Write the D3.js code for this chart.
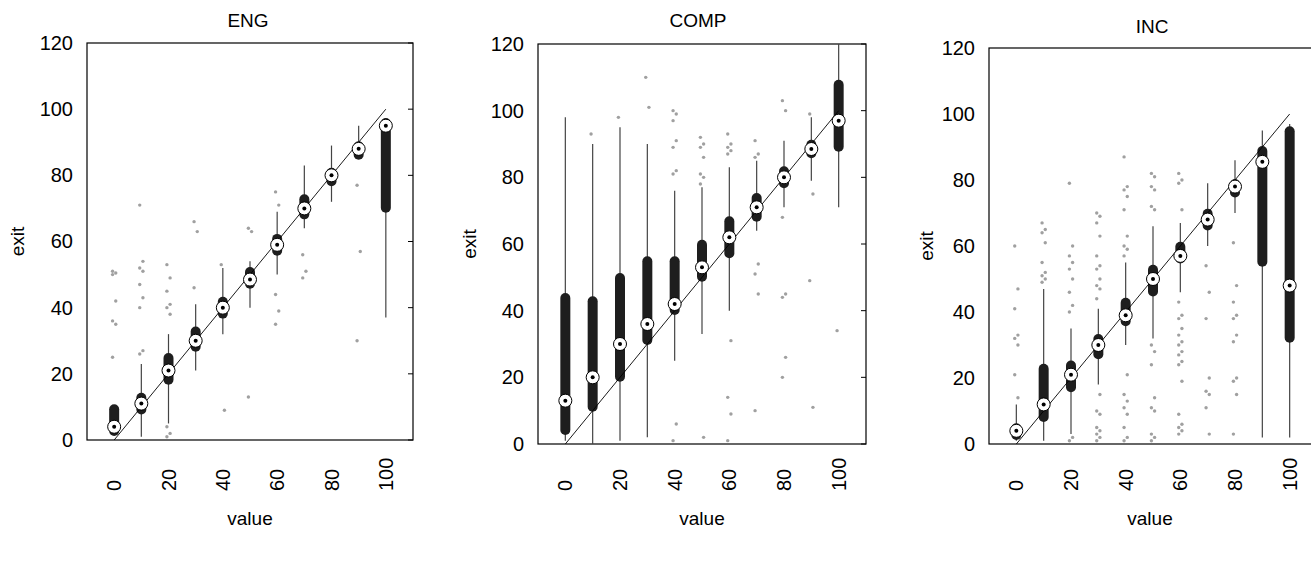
<!DOCTYPE html>
<html><head><meta charset="utf-8">
<script src="https://cdn.jsdelivr.net/npm/d3@7"></script>
<style>body{margin:0;background:#fff}svg{display:block;font-family:"Liberation Sans",Arial,sans-serif}</style>
</head><body><svg id="c" width="1311" height="580"></svg>
<script>
const categories = [0, 10, 20, 30, 40, 50, 60, 70, 80, 90, 100];
const tickLabels = [0, 20, 40, 60, 80, 100];
const yTicks = [0, 20, 40, 60, 80, 100, 120];
const panelTitles = ['ENG', 'COMP', 'INC'];

// [whiskerLow, q1, median, q3, whiskerHigh] per category
const engStats = [[1.5,1.5,4,10.5,10.5],[1,8,11,14,23],[5,17,21,26,32],[21,27,30,34,41],[32,37,40,43,52],[40,46,48.5,52,54],
  [50,56,59,62,69],[64,67,70,74,83],[72,77,80,82,89],[85,85,88,90,95],[37,69,95,97,97]];
const compStats = [[1,3,13,45,98],[0,10,20,44,90],[1,19,30,51,95],[2,30,36,56,90],[25,39,42,56,76],[33,49,53,61,77],
  [40,56,62,68,83],[64,67,71,75,85],[71,77,80,83,91],[79,86,88.5,91,98],[71,88,97,109,120]];
const incStats = [[1,1.5,4,6,12],[1,7,12,24,47],[3,16,21,25,35],[18,26,30,33,41],[30,36,39,44,55],[32,45,50,54,66],
  [46,55,57,61,67],[60,65,68,71,79],[70,75,78,80,86],[2,54,85.5,90,95],[2,31,48,96,97]];

const engOut = [[51,50.5,50,42,36,35,25],[71,54,52,51,47,43,40,27,26],[53,49,45,41,40,38,4,2,1],[66,63,46],[53,9],[64,63,13],
  [75,71,44,39,35],[56,51,49],[],[77,57,30],[]];
const compOut = [[],[93],[98],[110,101],[100,99,97,91,89,82,81,6,1],[92,90,89,86,81,80,78,2],[93,90,89,88,87,31,14,9,1],
  [91,87,86,54,51,45,10],[103,100,68,45,44,26,20],[99,75,49,11],[34]];
const incOut = [[60,47,41,33,32,30,21,14],[67,65,64,61,55,52,51,50,49],[79,60,57,55,53,50,46,42,40,2,1],
  [70,69,67,63,57,54,53,50,48,47,44,15,10,9,5,4,3,2,1],[87,78,77,75,71,63,60,59,57,21,15,13,11,9,5,2,1],
  [82,81,78,77,72,71,30,28,24,14,11,10,3,2,1],[82,80,79,71,43,39,38,35,33,31,30,28,27,25,24,19,9,6,5,4,3],
  [54,46,38,20,16,15,11,3],[61,48,43,39,38,33,31,20,19,15,3],[],[]];

const panels = [
  {stats: engStats, out: engOut, x0: 87, x1: 413, y0: 43, y1: 440, tx: 248, ty: 27, ylx: 18},
  {stats: compStats, out: compOut, x0: 538, x1: 866, y0: 44, y1: 444, tx: 698, ty: 27, ylx: 470},
  {stats: incStats, out: incOut, x0: 989, x1: 1317, y0: 48, y1: 444, tx: 1152, ty: 33, ylx: 927}
];

const svg = d3.select('#c');
panels.forEach((p, pi) => {
  const x = d3.scaleLinear().domain([-10, 110]).range([p.x0, p.x1]);
  const y = d3.scaleLinear().domain([0, 120]).range([p.y1, p.y0]);
  const g = svg.append('g');

  g.append('rect').attr('x', p.x0).attr('y', p.y0).attr('width', p.x1 - p.x0).attr('height', p.y1 - p.y0)
    .attr('fill', 'none').attr('stroke', '#000').attr('stroke-width', 1.2);

  // left labels, inward ticks on right
  g.append('g').attr('transform', `translate(${p.x0},0)`)
    .call(d3.axisLeft(y).tickValues(yTicks).tickSize(0).tickPadding(14))
    .call(a => a.select('.domain').remove())
    .attr('font-size', 20).attr('font-family', '"Liberation Sans",Arial')
    .selectAll('text').attr('fill', '#000');
  g.append('g').selectAll('line').data(yTicks).join('line')
    .attr('x1', p.x1 - 5).attr('x2', p.x1).attr('y1', d => y(d)).attr('y2', d => y(d)).attr('stroke', '#000');

  g.append('g').selectAll('text').data(tickLabels).join('text')
    .attr('transform', d => `translate(${x(d) + 7},491) rotate(-90)`)
    .attr('font-size', 20).text(d => d);

  g.append('text').attr('x', (p.x0 + Math.min(p.x1, 1311)) / 2).attr('y', 525)
    .attr('text-anchor', 'middle').attr('font-size', 19).text('value');
  g.append('text').attr('transform', `translate(${p.ylx + 6},${(p.y0 + p.y1) / 2}) rotate(-90)`)
    .attr('text-anchor', 'middle').attr('font-size', 19).text('exit');
  g.append('text').attr('x', p.tx).attr('y', p.ty).attr('text-anchor', 'middle').attr('font-size', 19).text(panelTitles[pi]);

  // outliers
  categories.forEach((c, i) => {
    g.append('g').selectAll('circle').data(p.out[i]).join('circle')
      .attr('cx', (d, k) => x(c) + (k % 2 ? 1.6 : -1.6)).attr('cy', d => y(d)).attr('r', 1.7).attr('fill', '#a0a0a0');
  });

  // whiskers
  g.append('g').selectAll('line').data(p.stats).join('line')
    .attr('x1', (d, i) => x(categories[i])).attr('x2', (d, i) => x(categories[i]))
    .attr('y1', d => y(d[0])).attr('y2', d => y(d[4])).attr('stroke', '#444').attr('stroke-width', 1.2);

  // boxes
  g.append('g').selectAll('line').data(p.stats).join('line')
    .attr('x1', (d, i) => x(categories[i])).attr('x2', (d, i) => x(categories[i]))
    .attr('y1', d => y(d[1]) - 4).attr('y2', d => y(d[3]) + 4)
    .attr('stroke', '#1e1e1e').attr('stroke-width', 10).attr('stroke-linecap', 'round');

  // diagonal
  g.append('line').attr('x1', x(0)).attr('y1', y(0)).attr('x2', x(100)).attr('y2', y(100))
    .attr('stroke', '#000').attr('stroke-width', 0.9);

  // medians
  g.append('g').selectAll('circle').data(p.stats).join('circle')
    .attr('cx', (d, i) => x(categories[i])).attr('cy', d => y(d[2])).attr('r', 6.5)
    .attr('fill', '#fff').attr('stroke', '#000').attr('stroke-width', 1);
  g.append('g').selectAll('circle').data(p.stats).join('circle')
    .attr('cx', (d, i) => x(categories[i])).attr('cy', d => y(d[2])).attr('r', 2).attr('fill', '#000');
});
</script></body></html>
